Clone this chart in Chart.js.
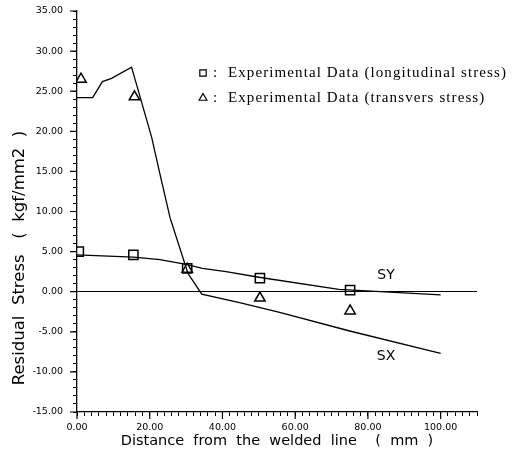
<!DOCTYPE html>
<html>
<head>
<meta charset="utf-8">
<script src="https://cdn.jsdelivr.net/npm/chart.js@4"></script>
<style>
  html, body { margin: 0; padding: 0; background: #fff; }
  #wrap { width: 514px; height: 455px; }
</style>
</head>
<body>
<div id="wrap"><canvas id="myChart"></canvas></div>
<script>
// curves (x: mm, y: kgf/mm2)
const sxX = [0, 4.3, 7.0, 9.5, 15.0, 20.5, 22.8, 25.6, 28.8, 30.5, 34.3, 45, 56, 75, 100];
const sxY = [24.2, 24.2, 26.2, 26.6, 28.0, 19.3, 14.7, 9.2, 4.7, 2.3, -0.3, -1.4, -2.6, -4.9, -7.7];
const syX = [0, 15.5, 22.8, 30, 34.5, 41, 50, 72, 100];
const syY = [4.6, 4.3, 4.0, 3.4, 2.9, 2.5, 1.8, 0.3, -0.4];

// experimental points
const longX = [0.5, 15.5, 30.3, 50.3, 75.1];
const longY = [5.0, 4.6, 2.9, 1.7, 0.2];
const transX = [1.1, 15.8, 30.3, 50.3, 75.1];
const transY = [26.5, 24.3, 2.8, -0.8, -2.4];

const legendLabels = [':  Experimental Data (longitudinal stress)', ':  Experimental Data (transvers stress)'];
const xTitle = 'Distance  from  the  welded  line    (  mm  )';
const yTitle = 'Residual  Stress   (  kgf/mm2  )';

const pts = (xs, ys) => xs.map((x, i) => ({x: x, y: ys[i]}));

const sans = "'DejaVu Sans', sans-serif";

// longer marks at the labelled ticks, legend, curve names and y title
const extras = {
    id: 'extras',
    afterDraw(chart) {
        const ctx = chart.ctx;
        const xs = chart.scales.x, ys = chart.scales.y;
        const area = chart.chartArea;
        ctx.save();
        ctx.fillStyle = '#000';
        ctx.strokeStyle = '#000';

        ctx.lineWidth = 1.2;
        ctx.beginPath();
        ys.ticks.forEach(t => {
            if (t.value % 5 === 0) {
                const p = ys.getPixelForValue(t.value);
                ctx.moveTo(area.left - 7, p);
                ctx.lineTo(area.left, p);
            }
        });
        xs.ticks.forEach(t => {
            if (t.value % 20 === 0) {
                const p = xs.getPixelForValue(t.value);
                ctx.moveTo(p, area.bottom);
                ctx.lineTo(p, area.bottom + 7);
            }
        });
        ctx.stroke();

        // curve names
        ctx.font = '14px ' + sans;
        ctx.textAlign = 'center';
        ctx.textBaseline = 'middle';
        ctx.fillText('SY', xs.getPixelForValue(85), ys.getPixelForValue(2));
        ctx.fillText('SX', xs.getPixelForValue(85), ys.getPixelForValue(-8));

        // legend
        const styles = ['rect', 'triangle'];
        ctx.font = "15px 'Liberation Serif', serif";
        ctx.textAlign = 'left';
        for (let i = 0; i < legendLabels.length; i++) {
            const y = 73 + i * 25;
            ctx.fillStyle = '#fff';
            Chart.helpers.drawPoint(ctx, {pointStyle: styles[i], radius: 4.5, borderWidth: 1.2}, 203, y);
            ctx.fillStyle = '#000';
            ctx.letterSpacing = '1.1px';
            ctx.fillText(legendLabels[i], 213, y);
            ctx.letterSpacing = '0px';
        }

        // y axis title
        ctx.font = '16.5px ' + sans;
        ctx.translate(20, 258);
        ctx.rotate(-Math.PI / 2);
        ctx.textAlign = 'center';
        ctx.fillText(yTitle, 0, 0);
        ctx.restore();
    }
};

const ctx = document.getElementById('myChart').getContext('2d');
const myChart = new Chart(ctx, {
    type: 'scatter',
    data: {
        datasets: [{
            label: 'SX',
            data: pts(sxX, sxY),
            showLine: true,
            borderColor: '#000',
            borderWidth: 1.3,
            pointRadius: 0,
            tension: 0
        }, {
            label: 'SY',
            data: pts(syX, syY),
            showLine: true,
            borderColor: '#000',
            borderWidth: 1.3,
            pointRadius: 0,
            tension: 0
        }, {
            label: 'longitudinal',
            data: pts(longX, longY),
            pointStyle: 'rect',
            pointRadius: 6.5,
            borderColor: '#000',
            borderWidth: 1.5,
            backgroundColor: 'rgba(0,0,0,0)'
        }, {
            label: 'transvers',
            data: pts(transX, transY),
            pointStyle: 'triangle',
            pointRadius: 6,
            borderColor: '#000',
            borderWidth: 1.5,
            backgroundColor: 'rgba(0,0,0,0)'
        }]
    },
    options: {
        responsive: true,
        maintainAspectRatio: false,
        animation: false,
        layout: { padding: { top: 11, right: 37, left: 0, bottom: 0 } },
        plugins: {
            legend: { display: false },
            tooltip: { enabled: false }
        },
        scales: {
            x: {
                type: 'linear',
                min: 0,
                max: 110,
                afterFit: s => { s.height = 43; },
                border: { color: '#000', width: 1.3 },
                grid: { drawOnChartArea: false, tickLength: 4, tickColor: '#000' },
                ticks: {
                    stepSize: 2,
                    autoSkip: false,
                    maxRotation: 0,
                    padding: 6,
                    color: '#000',
                    font: { family: sans, size: 9.5 },
                    callback: v => (v % 20 === 0 && v <= 100) ? v.toFixed(2) : ''
                },
                title: {
                    display: true,
                    text: xTitle,
                    color: '#000',
                    font: { family: sans, size: 14.5 },
                    padding: { top: 0, bottom: 5 }
                }
            },
            y: {
                min: -15,
                max: 35,
                afterFit: s => { s.width = 77; s.paddingTop = 0; s.paddingBottom = 0; },
                border: { color: '#000', width: 1.3 },
                grid: {
                    drawOnChartArea: true,
                    tickLength: 4,
                    tickColor: '#000',
                    color: c => c.tick && c.tick.value === 0 ? '#000' : 'rgba(0,0,0,0)'
                },
                ticks: {
                    stepSize: 1,
                    autoSkip: false,
                    padding: 10,
                    color: '#000',
                    font: { family: sans, size: 9.5 },
                    callback: v => v % 5 === 0 ? v.toFixed(2) : ''
                }
            }
        }
    },
    plugins: [extras]
});
</script>
</body>
</html>
